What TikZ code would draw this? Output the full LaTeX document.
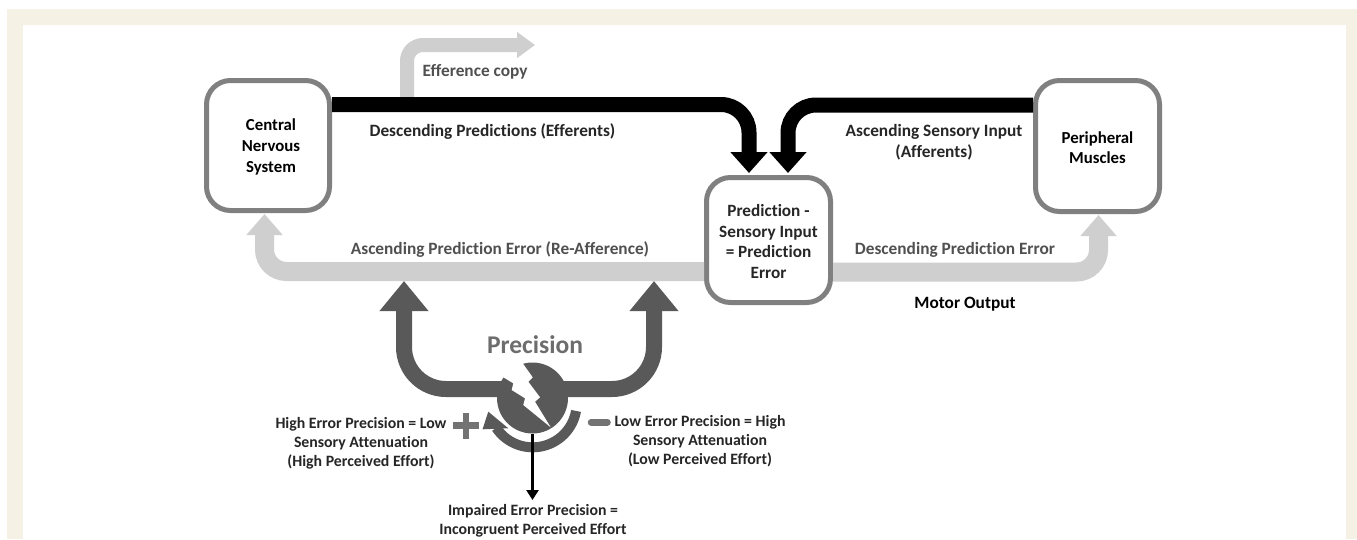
\documentclass[tikz,border=0pt]{standalone}
\usepackage{fontspec}
\setmainfont{Carlito}[Ligatures=NoCommon]
\usetikzlibrary{arrows.meta}
\definecolor{cream}{HTML}{F5F1E4}
\definecolor{boxgray}{HTML}{808080}
\definecolor{lightarrow}{HTML}{CFCFCF}
\definecolor{darkarrow}{HTML}{595959}
\definecolor{labelgray}{HTML}{505050}
\newcommand{\downstrut}{\rule{0pt}{15pt}}
\tikzset{
  x=1pt,y=-1pt,
  sysbox/.style={draw=boxgray,line width=5pt,fill=white,rounded corners=24pt,minimum width=123pt,minimum height=130pt,inner sep=0pt,align=center,font=\bfseries\fontsize{16.8}{20.7}\selectfont,text=black},
  lab/.style={inner sep=0pt,align=center,font=\bfseries\fontsize{17.3}{20.7}\selectfont},
  smalllab/.style={inner sep=0pt,align=center,text=black!85,font=\bfseries\fontsize{15.8}{19}\selectfont},
  blackarrow/.style={draw=black,line width=15pt,rounded corners=28pt,-{Triangle[length=21pt,width=36pt]}},
  lightflow/.style={draw=lightarrow,line width=19pt,rounded corners=22pt,-{Triangle[length=21pt,width=35pt]}},
  effflow/.style={draw=lightarrow,line width=14pt,rounded corners=16pt,-{Triangle[length=18pt,width=25pt]}},
  darkflow/.style={draw=darkarrow,line width=16pt,rounded corners=42pt,-{Triangle[length=30pt,width=47pt]}},
  signbar/.style={draw=boxgray!90!black,line width=6.5pt},
}
\begin{document}
\begin{tikzpicture}
\useasboundingbox (0,0) rectangle (1357,539);
\fill[white] (0,0) rectangle (1357,539);
\fill[cream] (7,9) rectangle (1357,539);
\fill[white] (23,25) rectangle (1346,539);

% boxes
\node[sysbox,minimum height=130pt] (cns) at (268,145.5) {\downstrut\hspace*{6pt}Central\\\hspace*{6pt}Nervous\\\hspace*{6pt}System};
\node[sysbox,minimum width=124pt,minimum height=131pt] (pm) at (1097.5,146) {\downstrut Peripheral\\Muscles};
\node[sysbox,minimum width=124pt,minimum height=125pt,text=black!85,font=\bfseries\fontsize{17.2}{20.7}\selectfont] (ppe) at (768.5,240) {\downstrut Prediction -\\Sensory Input\\= Prediction\\Error};

% waypoints
\coordinate (tl) at (749,104.5);
\coordinate (tr) at (788,105);
\coordinate (lg) at (264.5,271.5);
\coordinate (rg) at (1098.5,272);
\coordinate (eff0) at (407,104);
\coordinate (eff1) at (407,45);
\coordinate (eff2) at (535,45);
\coordinate (dl) at (404,389);
\coordinate (dr) at (654,389);
\coordinate (dlend) at (404,281);
\coordinate (drend) at (654,281);
\coordinate (impend) at (532.5,500);

% light arrows
\draw[effflow] (eff0) -- (eff1) -- (eff2);
\draw[lightflow,shorten >=1pt] (ppe.west |- lg) -- (lg) -- (lg |- cns.south);
\draw[lightflow,shorten >=1pt] (ppe.east |- rg) -- (rg) -- (rg |- pm.south);

% black arrows
\draw[blackarrow,shorten >=2pt] (cns.east |- tl) -- (tl) -- (tl |- ppe.north);
\draw[blackarrow,shorten >=2pt] (pm.west |- tr) -- (tr) -- (tr |- ppe.north);

% precision symbol
\node[circle,fill=darkarrow,minimum size=71pt,inner sep=0pt] (prec) at (532.5,398) {};
\draw[darkflow] (prec.center |- dl) -- (dl) -- (dlend);
\draw[darkflow] (prec.center |- dr) -- (dr) -- (drend);
\fill[white] (522.7,360) -- (522.7,363.3) -- (532.7,377.3) -- (528.3,381.7) -- (540,397.3) -- (535,401.7) -- (550.7,427.3)
  -- (523.3,405) -- (525,398.3) -- (511.7,390) -- (513.3,383.3) -- (503.3,377.3) -- (503.3,360) -- cycle;
\draw[darkarrow,line width=10pt] plot[domain=10:146,samples=50] ({532.7+44*cos(\x)},{403.3+44*sin(\x)});
\fill[darkarrow] (488.3,411.7) -- (482.5,429.3) -- (508.3,428.3) -- cycle;
\draw[black,line width=3.8pt,-{Triangle[length=10pt,width=12pt]}] (prec.south) -- (impend);

% plus and minus
\coordinate (pluscen) at (466,425.5);
\draw[signbar] ([xshift=-13pt]pluscen) -- ([xshift=13pt]pluscen);
\draw[signbar] ([yshift=-13pt]pluscen) -- ([yshift=13pt]pluscen);
\draw[signbar,line cap=round,line width=6.5pt] (591,422.3) -- (607.5,422.3);

% labels
\node[lab,text=labelgray] (effl) at (475,71.5) {Efference copy};
\node[lab,text=black!85] (dpl) at (492.5,131.5) {Descending Predictions (Efferents)};
\node[lab,text=black!85] (asl) at (934,142) {Ascending Sensory Input\\(Afferents)};
\node[lab,text=labelgray] (apl) at (500,249.5) {Ascending Prediction Error (Re-Afference)};
\node[lab,text=labelgray] (dpe) at (955,249.5) {Descending Prediction Error};
\node[lab,text=black] (mot) at (965,304.5) {Motor Output};
\node[inner sep=0pt,text=boxgray!85!black,font=\bfseries\fontsize{25.5}{28}\selectfont] (ptxt) at (535,345) {Precision};
\node[smalllab] (hi) at (361,443) {High Error Precision = Low\\Sensory Attenuation\\(High Perceived Effort)};
\node[smalllab] (lo) at (700,441) {Low Error Precision = High\\Sensory Attenuation\\(Low Perceived Effort)};
\node[smalllab] (imp) at (533,520.5) {Impaired Error Precision =\\Incongruent Perceived Effort};
\end{tikzpicture}
\end{document}
